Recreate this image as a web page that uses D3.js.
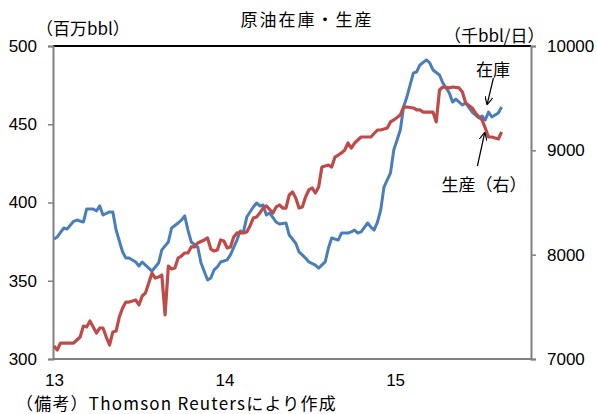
<!DOCTYPE html>
<html>
<head>
<meta charset="utf-8">
<script src="https://cdn.jsdelivr.net/npm/d3@7"></script>
<style>
  body { margin: 0; background: #fff; }
  text { font-family: "Liberation Sans", "Noto Sans CJK JP", sans-serif; fill: #000; }
  .jp { font-family: "Noto Sans CJK JP", sans-serif; }
</style>
</head>
<body>
<script>
// weeks since start of 2013
var stockWeeks = [0,1,3,4,6,7,9,10,12,13,14,15,17,18,19,21,22,23,25,26,27,28,30,32,33,35,36,38,39,40,41,42,44,45,47,48,49,50,51,53,54,56,57,58,59,61,62,63,64,65,66,68,69,71,72,74,75,77,78,80,81,83,84,85,87,88,90,91,92,93,94,96,97,98,99,100,101,103,104,106,107,108,110,111,112,114,115,116,118,119,121,122,123,125,126,128,130,131,132,133,134,136,137];
// crude oil stocks, million bbl (left axis)
var stockValues = [376.7,378,383.7,383,388,388.8,387.5,395.9,395.9,394.6,397.8,392,394,394,382.4,368.4,364.5,364.5,362,359.4,362,360,356.2,361.3,369.7,374.8,383.7,386.9,388.8,391.4,382.4,374.8,371.6,361.3,350.5,351.8,356.9,358.8,362,363.3,366.5,376,381.8,381.2,390.7,397.1,399.7,397.8,398.4,392,393.3,387.5,386.3,386.9,379.2,374,368.4,364.5,362,360,358.1,362,370.9,377.3,376,380.5,380.5,381.2,382.4,380.5,381.2,386.9,384.3,382.4,387.5,395.2,409.9,418.9,433.6,446.3,461,467.4,482.8,483.4,487.9,491.1,489.2,484.7,481.5,476.4,470,464.2,466.1,462.3,463.6,457.8,454,455.3,452.7,457.8,454.6,457.2,461];

var prodWeeks = [0,1,2,3,6,7,8,9,10,11,12,13,14,15,16,17,18,19,20,21,22,23,25,26,27,28,29,30,31,32,33,34,35,36,37,38,39,40,41,42,43,44,46,47,48,49,50,51,52,53,54,55,56,58,59,60,61,62,63,64,65,67,68,69,70,71,72,73,74,75,76,77,78,79,80,81,82,84,85,86,87,88,89,90,91,92,93,94,96,97,99,100,102,103,104,106,107,108,110,111,112,113,114,116,117,118,119,121,122,124,125,126,128,129,131,132,133,134,136,137];
// crude oil production, thousand bbl/day (right axis)
var prodValues = [7125,7086,7153,7153,7153,7182,7211,7316,7307,7364,7307,7249,7297,7297,7211,7134,7259,7268,7403,7489,7546,7546,7566,7518,7604,7633,7728,7824,7776,7786,7805,7422,7891,7863,7872,7968,7987,8016,8016,8074,8074,8112,8141,8160,8054,8035,8045,8141,8131,8064,8074,8169,8208,8208,8217,8275,8351,8361,8399,8447,8467,8399,8457,8476,8447,8447,8572,8601,8543,8447,8457,8553,8620,8639,8591,8649,8840,8859,8840,8936,8955,8975,9003,9070,9022,9070,9099,9128,9128,9128,9195,9195,9214,9272,9291,9339,9415,9415,9406,9387,9387,9367,9367,9367,9272,9578,9607,9598,9607,9598,9559,9454,9406,9358,9291,9214,9128,9128,9109,9176];

var yearTicks = [0, 52.2, 104.4];
var yearLabels = ["13", "14", "15"];
var leftTicks = [300, 350, 400, 450, 500];
var rightTicks = [7000, 8000, 9000, 10000];

var W = 597, H = 414;
var pL = 53, pR = 531, pT = 46, pB = 359;

var svg = d3.select("body").append("svg")
    .attr("width", W)
    .attr("height", H);

var x = d3.scaleLinear().domain([0, 146]).range([pL + 1, pR]);
var yL = d3.scaleLinear().domain([300, 500]).range([pB, pT]);
var yR = d3.scaleLinear().domain([7000, 10000]).range([pB, pT]);

// plot frame
svg.append("line").attr("x1", pL).attr("x2", pR).attr("y1", pT).attr("y2", pT)
    .attr("stroke", "#000").attr("stroke-width", 2);

var axL = svg.append("g")
    .attr("transform", "translate(" + pL + ",0)")
    .call(d3.axisLeft(yL).tickValues(leftTicks).tickSize(5).tickPadding(11));
var axR = svg.append("g")
    .attr("transform", "translate(" + pR + ",0)")
    .call(d3.axisRight(yR).tickValues(rightTicks).tickSize(5).tickPadding(11)
        .tickFormat(d3.format("d")));
var axB = svg.append("g")
    .attr("transform", "translate(0," + pB + ")")
    .call(d3.axisBottom(x).tickValues(yearTicks).tickSize(0).tickPadding(15)
        .tickFormat(function(d, i) { return yearLabels[i]; }));

[axL, axR].forEach(function(a) {
    a.select(".domain").attr("stroke", "#808080").attr("stroke-width", 2);
    a.selectAll(".tick line").attr("stroke", "#808080").attr("stroke-width", 1.5);
});
axB.select(".domain").attr("d", "M" + pL + ",0H" + pR)
    .attr("stroke", "#808080").attr("stroke-width", 2);
svg.selectAll(".tick text").attr("font-size", 17).attr("fill", "#000")
    .style("font-family", "'Liberation Sans', sans-serif");

var stockData = stockWeeks.map(function(w, i) { return [w, stockValues[i]]; });
var prodData = prodWeeks.map(function(w, i) { return [w, prodValues[i]]; });

svg.append("path")
    .datum(stockData)
    .attr("fill", "none")
    .attr("stroke", "#4a7ebb")
    .attr("stroke-width", 3)
    .attr("stroke-linejoin", "round")
    .attr("d", d3.line().x(function(d) { return x(d[0]); }).y(function(d) { return yL(d[1]); }));

svg.append("path")
    .datum(prodData)
    .attr("fill", "none")
    .attr("stroke", "#be4b48")
    .attr("stroke-width", 3.2)
    .attr("stroke-linejoin", "round")
    .attr("d", d3.line().x(function(d) { return x(d[0]); }).y(function(d) { return yR(d[1]); }));

// titles
svg.append("text").attr("class", "jp").attr("x", 307).attr("y", 26)
    .attr("text-anchor", "middle").attr("font-size", 17).attr("letter-spacing", 2)
    .text("原油在庫・生産");
svg.append("text").attr("class", "jp").attr("x", 36).attr("y", 35)
    .attr("font-size", 17).text("（百万bbl）");
svg.append("text").attr("class", "jp").attr("x", 444).attr("y", 42)
    .attr("font-size", 17).text("（千bbl/日）");
svg.append("text").attr("class", "jp").attr("x", 16).attr("y", 410)
    .attr("font-size", 17).attr("letter-spacing", 1.2)
    .text("（備考）Thomson Reutersにより作成");

// annotations
var marker = svg.append("defs").append("marker")
    .attr("id", "arr").attr("viewBox", "0 0 10 10").attr("refX", 9).attr("refY", 5)
    .attr("markerWidth", 8).attr("markerHeight", 8).attr("orient", "auto-start-reverse")
    .attr("markerUnits", "userSpaceOnUse");
marker.append("path").attr("d", "M0,0L10,5L0,10").attr("fill", "none").attr("stroke", "#000").attr("stroke-width", 1.5);

svg.append("text").attr("class", "jp").attr("x", 493).attr("y", 76)
    .attr("text-anchor", "middle").attr("font-size", 17).text("在庫");
svg.append("line").attr("x1", x(134.5)).attr("y1", 78).attr("x2", x(132.6)).attr("y2", 104)
    .attr("stroke", "#000").attr("stroke-width", 1.2).attr("marker-end", "url(#arr)");

svg.append("text").attr("class", "jp").attr("x", 484).attr("y", 191)
    .attr("text-anchor", "middle").attr("font-size", 17).text("生産（右）");
svg.append("line").attr("x1", x(129.6)).attr("y1", 166).attr("x2", x(131.8)).attr("y2", 133)
    .attr("stroke", "#000").attr("stroke-width", 1.2).attr("marker-end", "url(#arr)");
</script>
</body>
</html>
